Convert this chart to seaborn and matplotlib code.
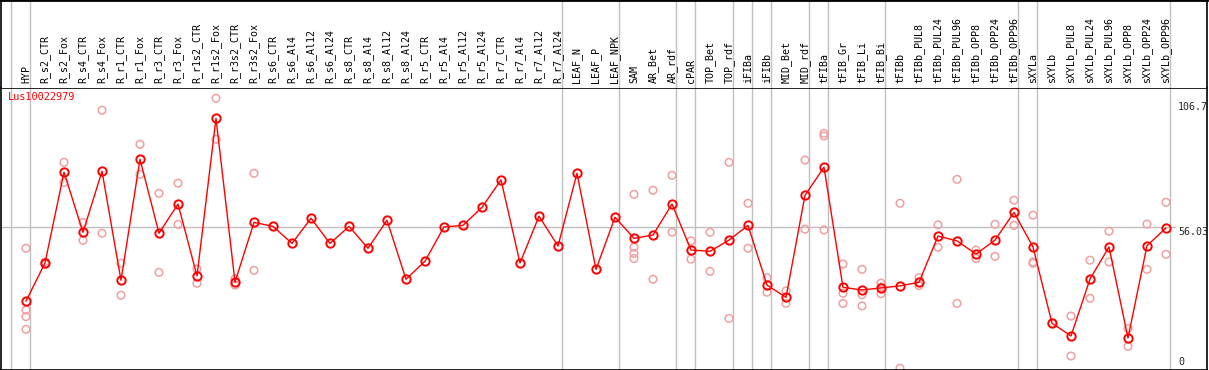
import pandas as pd
import seaborn as sns
import matplotlib.pyplot as plt

# sample names along the x axis
samples = [
    'HYP', 'R_s2_CTR', 'R_s2_Fox', 'R_s4_CTR', 'R_s4_Fox', 'R_r1_CTR', 'R_r1_Fox',
    'R_r3_CTR', 'R_r3_Fox', 'R_r1s2_CTR', 'R_r1s2_Fox', 'R_r3s2_CTR', 'R_r3s2_Fox',
    'R_s6_CTR', 'R_s6_Al4', 'R_s6_Al12', 'R_s6_Al24', 'R_s8_CTR', 'R_s8_Al4',
    'R_s8_Al12', 'R_s8_Al24', 'R_r5_CTR', 'R_r5_Al4', 'R_r5_Al12', 'R_r5_Al24',
    'R_r7_CTR', 'R_r7_Al4', 'R_r7_Al12', 'R_r7_Al24', 'LEAF_N', 'LEAF_P', 'LEAF_NPK',
    'SAM', 'AR_Bet', 'AR_rdf', 'cPAR', 'TOP_Bet', 'TOP_rdf', 'iFIBa', 'iFIBb',
    'MID_Bet', 'MID_rdf', 'tFIBa', 'tFIB_Gr', 'tFIB_Li', 'tFIB_Bi', 'tFIBb',
    'tFIBb_PUL8', 'tFIBb_PUL24', 'tFIBb_PUL96', 'tFIBb_OPP8', 'tFIBb_OPP24', 'tFIBb_OPP96',
    'sXYLa', 'sXYLb', 'sXYLb_PUL8', 'sXYLb_PUL24', 'sXYLb_PUL96', 'sXYLb_OPP8',
    'sXYLb_OPP24', 'sXYLb_OPP96',
]

# mean expression per sample
means = [
    26.9, 41.9, 77.6, 54.0, 78.0, 35.1, 82.7, 53.6, 65.1, 36.8, 98.8, 34.4, 57.9,
    56.3, 49.6, 59.5, 49.6, 56.3, 47.7, 58.7, 35.5, 42.6, 56.1, 56.7, 63.8,
    74.6, 41.9, 60.3, 48.6, 77.2, 39.4, 59.9,
    51.6, 52.9, 65.1, 47.0, 46.5, 50.9, 56.7, 33.2, 28.4, 68.5, 79.6,
    32.3, 31.3, 32.1, 32.9, 34.3, 52.5, 50.6, 45.4, 50.9, 61.8,
    48.2, 18.2, 13.2, 35.6, 48.2, 12.4, 48.7, 55.7,
]

# replicate values (faint circles)
replicates = [
    [47.7, 23.4, 20.8, 15.8], [42.3, 41.5], [81.5, 73.6], [57.8, 50.8], [102.0, 53.6],
    [41.8, 29.2], [88.6, 76.8], [69.3, 38.2], [73.3, 57.1], [39.5, 33.9],
    [106.7, 90.6], [35.7, 33.2], [77.2, 39.0],
    [], [], [], [], [], [], [], [], [], [], [], [], [], [], [], [], [], [], [],
    [68.9, 48.1, 45.7, 43.7], [70.5, 35.5], [76.4, 54.0], [50.6, 43.4], [54.0, 38.6],
    [81.5, 20.1], [65.4, 47.7], [36.1, 30.4], [30.9, 26.0], [82.4, 55.2],
    [92.9, 91.9, 54.9], [41.5, 30.0, 26.0], [39.4, 29.4, 25.0], [34.0, 32.5, 29.8],
    [65.4, 0.5], [36.1, 33.0], [56.9, 48.1], [74.8, 26.0], [47.0, 43.7], [57.1, 44.5],
    [66.6, 56.7], [60.7, 42.3, 41.8], [18.2], [21.0, 5.3], [43.0, 28.0], [54.4, 42.3],
    [16.1, 9.1], [57.2, 39.4], [65.8, 45.3],
]

# first sample of each tissue group (vertical separators)
group_starts = ['HYP', 'R_s2_CTR', 'LEAF_N', 'SAM', 'cPAR', 'TOP_Bet', 'iFIBa', 'iFIBb',
                'MID_Bet', 'tFIBa', 'tFIB_Gr', 'tFIBb', 'sXYLa', 'sXYLb']

gene = 'Lus10022979'
y_marks = [106.7, 56.03, 0]

mean_df = pd.DataFrame({'x': range(len(samples)), 'value': means})
rep_df = pd.DataFrame([(i, v) for i, reps in enumerate(replicates) for v in reps],
                      columns=['x', 'value'])

sns.set_style('white')
plt.rcParams['font.family'] = ['DejaVu Sans Mono']

W, H = 1209, 370
fig = plt.figure(figsize=(W / 100, H / 100), dpi=100)
ax = fig.add_axes([1 / W, 0.5 / H, 1206 / W, 281.5 / H])
lab = fig.add_axes([1 / W, 282 / H, 1206 / W, 88 / H], sharex=ax)

xmin = (1 - 26) / 19
xmax = (1207 - 26) / 19
ax.set_xlim(xmin, xmax)
ax.set_ylim(0, 110.75)
lab.set_ylim(0, 1)

gray = '#c0c0c0'
for name in group_starts:
    gx = samples.index(name) - 15 / 19
    ax.axvline(gx, color=gray, lw=1, zorder=0)
    lab.axvline(gx, color=gray, lw=1, zorder=0)
end_x = len(samples) - 15 / 19
ax.axvline(end_x, color=gray, lw=1, zorder=0)
lab.axvline(end_x, color=gray, lw=1, zorder=0)
ax.hlines(56.03, xmin, (1176 - 26) / 19, color=gray, lw=1, zorder=0)

sns.scatterplot(data=rep_df, x='x', y='value', ax=ax, marker='o', s=30,
                facecolor='none', edgecolor='#f0a0a0', linewidth=1.1, zorder=2)
sns.lineplot(data=mean_df, x='x', y='value', ax=ax, color='red', lw=1,
             marker='o', markersize=6, markerfacecolor='none',
             markeredgecolor='red', markeredgewidth=1.4, zorder=3)

for i, name in enumerate(samples):
    lab.text(i, 0.057, name, rotation=90, ha='center', va='bottom',
             fontsize=7.2, color='black')

ax.annotate(gene, xy=(0, 1), xycoords='axes fraction', xytext=(7, -4),
            textcoords='offset pixels', ha='left', va='top', fontsize=7.4, color='red')

tx = (1178 - 26) / 19
ax.annotate('%g' % y_marks[0], xy=(tx, y_marks[0]), xytext=(0, -4),
            textcoords='offset pixels', ha='left', va='top', fontsize=7.2)
ax.annotate('%.2f' % y_marks[1], xy=(tx, y_marks[1]), xytext=(0, 0),
            textcoords='offset pixels', ha='left', va='top', fontsize=7.2)
ax.annotate('%g' % y_marks[2], xy=(tx, y_marks[2]), xytext=(0, 4.5),
            textcoords='offset pixels', ha='left', va='baseline', fontsize=7.2)

for a in (ax, lab):
    a.set_xticks([])
    a.set_yticks([])
    a.set_xlabel('')
    a.set_ylabel('')
    for s in a.spines.values():
        s.set_color('black')
        s.set_linewidth(1.2)
lab.spines['top'].set_linewidth(2)
lab.spines['bottom'].set_visible(False)

fig.savefig('out.png', dpi=100)
